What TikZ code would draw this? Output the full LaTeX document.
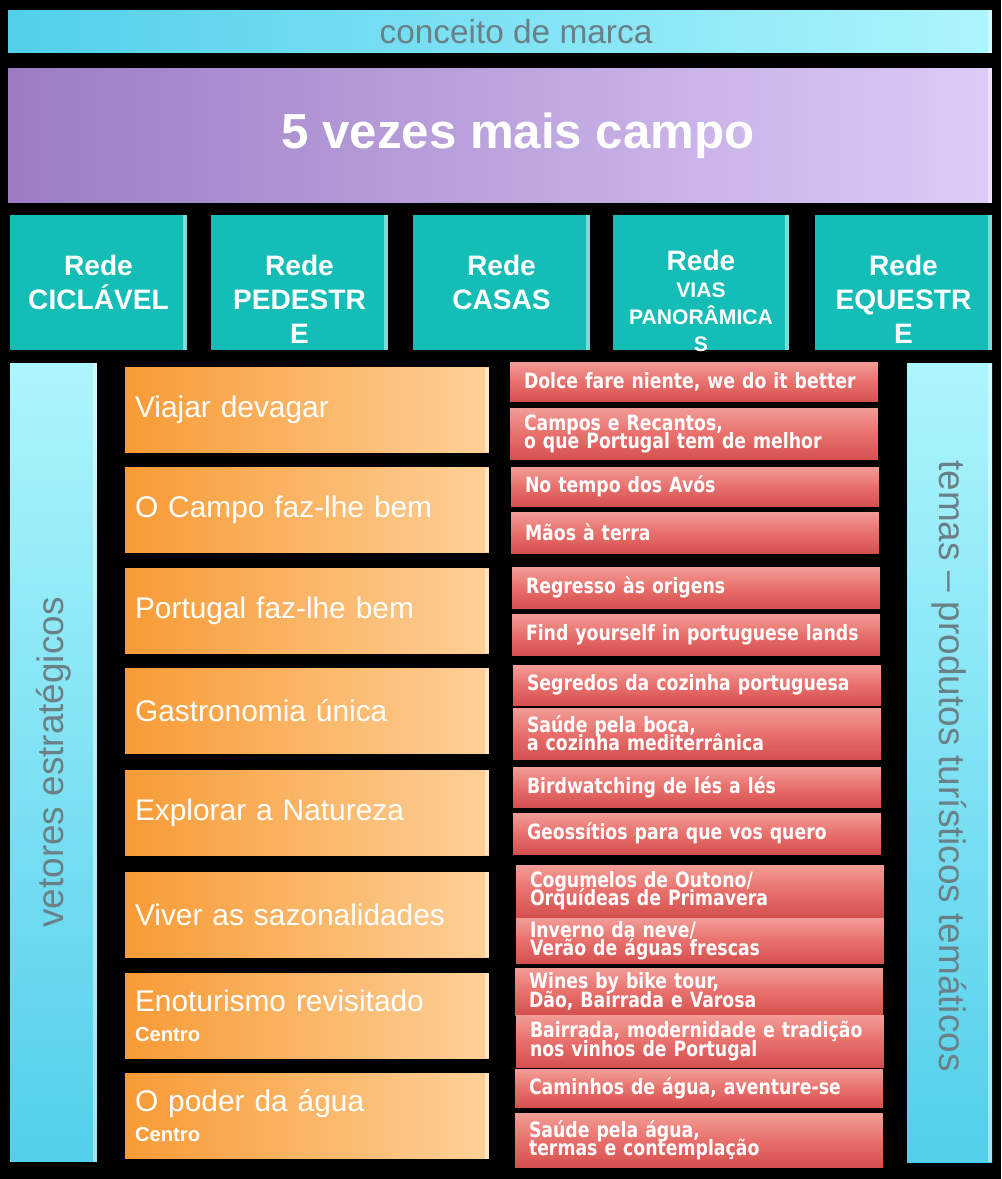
\documentclass[tikz,border=0pt]{standalone}
\usepackage{fontspec}
\setmainfont{Liberation Sans}
\newfontfamily\themefont[FakeStretch=0.82]{DejaVu Sans}
\usetikzlibrary{positioning}
\definecolor{barL}{HTML}{52CFEA}
\definecolor{barR}{HTML}{ACF5FD}
\definecolor{lilacL}{HTML}{9B7CC3}
\definecolor{lilacR}{HTML}{DECBF8}
\definecolor{tealbg}{HTML}{14BDB5}
\definecolor{orangeL}{HTML}{F89B36}
\definecolor{orangeR}{HTML}{FDD098}
\definecolor{redT}{HTML}{F29C96}
\definecolor{redM}{HTML}{E8706C}
\definecolor{redB}{HTML}{D4504E}
\definecolor{grayTxt}{HTML}{6A7F86}
\newcommand{\centrotxt}{\bfseries\fontsize{11.5}{14}\selectfont}
\newcommand{\themetxt}{\themefont\bfseries\fontsize{12}{10.4}\selectfont\lineskiplimit=-10pt\relax}

\begin{document}
\begin{tikzpicture}[x=0.02cm,y=-0.02cm,every node/.style={inner sep=0pt,outer sep=0pt},
  bevel/.style={path picture={\fill[white,opacity=.45] ([xshift=-2.5pt]path picture bounding box.north east) rectangle (path picture bounding box.south east);}},
  bar/.style={bevel,left color=barL,right color=barR,minimum width=19.68cm,minimum height=0.86cm,text=grayTxt,font=\fontsize{19}{22}\selectfont},
  title/.style={bevel,left color=lilacL,right color=lilacR,minimum width=19.68cm,minimum height=2.7cm,text=white,font=\bfseries\fontsize{28}{32}\selectfont},
  rede/.style={bevel,fill=tealbg,minimum width=3.54cm,minimum height=2.7cm},
  redetxt/.style={align=center,text=white,font=\bfseries\fontsize{16}{19.3}\selectfont},
  side/.style={bevel,top color=barR,bottom color=barL,minimum height=15.98cm},
  sidetxt/.style={text=grayTxt,font=\fontsize{21}{24}\selectfont},
  vetor/.style={bevel,left color=orangeL,right color=orangeR,text width=6.88cm,inner xsep=0.2cm,minimum height=1.7cm,align=left,text=white,font=\fontsize{17}{20}\selectfont},
  tema/.style={anchor=west,top color=redT,bottom color=redB,middle color=redM,text width=6.8cm,inner xsep=0.28cm,align=left,text=white,font=\themetxt}]
\fill[black] (0,0) rectangle (1001,1179);
\useasboundingbox (0,0) rectangle (1001,1179);
\node[bar] (marca) at (500,31.5) {\hspace*{0.64cm}conceito de marca};
\node[title] (campo) at (500,135.5) {\hspace*{0.72cm}5 vezes mais campo};
\node[rede] (ciclavel) at (98.5,282.5) {};
\node[rede] (pedestre) at (299.5,282.5) {};
\node[rede] (casas) at (501.5,282.5) {};
\node[rede] (vias) at (701,282.5) {};
\node[rede] (equestre) at (903.5,282.5) {};
\node[redetxt,below=0.8cm of ciclavel.north] (ciclavel-t) {Rede\\CICLÁVEL};
\node[redetxt,below=0.8cm of pedestre.north] (pedestre-t) {Rede\\PEDESTR\\E};
\node[redetxt,below=0.8cm of casas.north] (casas-t) {Rede\\CASAS};
\node[redetxt,below=0.7cm of vias.north,font=\bfseries\fontsize{12}{15.3}\selectfont] (vias-t) {{\fontsize{16}{19.3}\selectfont Rede}\\VIAS\\PANORÂMICA\\S};
\node[redetxt,below=0.8cm of equestre.north] (equestre-t) {Rede\\EQUESTR\\E};
\node[side,minimum width=1.74cm] (vetores) at (53.5,762.5) {};
\node[side,minimum width=1.7cm] (temas) at (949.5,763) {};
\node[sidetxt,rotate=90] (vetores-t) at (vetores.center) {vetores estratégicos};
\node[sidetxt,rotate=-90] (temas-t) at ([yshift=-0.06cm]temas.center) {temas -- produtos turísticos temáticos};
\node[vetor] (v1) at (307,410) {Viajar devagar};
\node[vetor] (v2) at (307,510) {O Campo faz-lhe bem};
\node[vetor] (v3) at (307,611) {Portugal faz-lhe bem};
\node[vetor] (v4) at (307,711) {Gastronomia única};
\node[vetor] (v5) at (307,812.5) {Explorar a Natureza};
\node[vetor] (v6) at (307,914.5) {Viver as sazonalidades};
\node[vetor] (v7) at (307,1015.5) {Enoturismo revisitado\\[-3pt]{\centrotxt Centro}};
\node[vetor] (v8) at (307,1116) {O poder da água\\[-3pt]{\centrotxt Centro}};
\node[tema,minimum height=0.8cm] (t1) at (510,382) {Dolce fare niente, we do it better};
\node[tema,minimum height=1.04cm] (t2) at (510,434) {Campos e Recantos,\\o que Portugal tem de melhor};
\node[tema,minimum height=0.78cm] (t3) at (511,486.5) {No tempo dos Avós};
\node[tema,minimum height=0.82cm] (t4) at (511,532.5) {Mãos à terra};
\node[tema,minimum height=0.82cm] (t5) at (512,587.5) {Regresso às origens};
\node[tema,minimum height=0.82cm] (t6) at (512,634.5) {Find yourself in portuguese lands};
\node[tema,minimum height=0.8cm] (t7) at (513,685) {Segredos da cozinha portuguesa};
\node[tema,minimum height=1.02cm] (t8) at (513,733.5) {Saúde pela boca,\\a cozinha mediterrânica};
\node[tema,minimum height=0.8cm] (t9) at (513,787) {Birdwatching de lés a lés};
\node[tema,minimum height=0.82cm] (t10) at (513,833.5) {Geossítios para que vos quero};
\node[tema,minimum height=1.04cm] (t11) at (516,891) {Cogumelos de Outono/\\Orquídeas de Primavera};
\node[tema,minimum height=0.9cm] (t12) at (516,940.5) {Inverno da neve/\\Verão de águas frescas};
\node[tema,minimum height=0.94cm] (t13) at (515,991.5) {Wines by bike tour,\\Dão, Bairrada e Varosa};
\node[tema,minimum height=1.04cm] (t14) at (516,1041) {Bairrada, modernidade e tradição\\nos vinhos de Portugal};
\node[tema,minimum height=0.76cm] (t15) at (515,1088.5) {Caminhos de água, aventure-se};
\node[tema,minimum height=1.08cm] (t16) at (515,1140) {Saúde pela água,\\termas e contemplação};
\end{tikzpicture}
\end{document}
